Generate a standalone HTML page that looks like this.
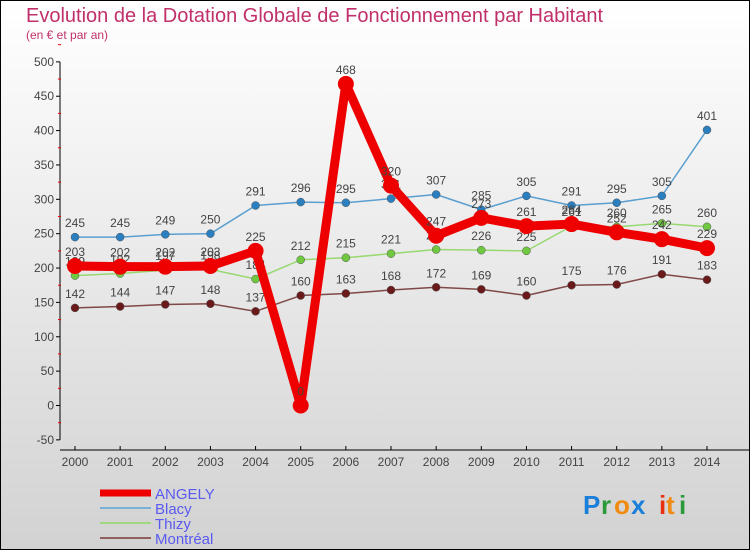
<!DOCTYPE html>
<html><head><meta charset="utf-8"><style>
body{margin:0;}
#wrap{width:750px;height:550px;position:relative;overflow:hidden;}
</style></head><body>
<div id="wrap">
<svg id="svg" width="750" height="550" xmlns="http://www.w3.org/2000/svg" font-family="Liberation Sans, sans-serif">
<defs><linearGradient id="bg" x1="0" y1="0" x2="0" y2="1"><stop offset="0" stop-color="#ffffff"/><stop offset="1" stop-color="#d2d2d2"/></linearGradient></defs>
<rect x="0.5" y="0.5" width="749" height="549" fill="url(#bg)" stroke="#000"/>
<text x="26" y="22" font-size="20" fill="#c0306a">Evolution de la Dotation Globale de Fonctionnement par Habitant</text>
<text x="26" y="39" font-size="12" fill="#c0306a">(en € et par an)</text>
<g id="axes"></g>
<g id="series"></g>
<g id="legend"></g>
<g font-size="26" font-weight="bold">
<text x="583" y="514" fill="#1a7fd8">P</text><text x="601" y="514" fill="#2a9a3a">r</text><text x="614" y="514" fill="#f08a10">o</text><text x="631" y="514" fill="#1a7fd8">x</text><text x="659" y="514" fill="#e83010">i</text><text x="666" y="514" fill="#f08a10">t</text><text x="679" y="514" fill="#2a9a3a">i</text>
</g>
</svg>
</div>
<script>
const years=[2000,2001,2002,2003,2004,2005,2006,2007,2008,2009,2010,2011,2012,2013,2014];
const angely=[203,202,202,203,225,0,468,320,247,273,261,264,252,242,229];
const blacy=[245,245,249,250,291,296,295,301,307,285,305,291,295,305,401];
const thizy=[189,192,197,198,184,212,215,221,227,226,225,261,260,265,260];
const montreal=[142,144,147,148,137,160,163,168,172,169,160,175,176,191,183];
const yTicks=[-50,0,50,100,150,200,250,300,350,400,450,500];
const NS='http://www.w3.org/2000/svg';
const X=i=>75+i*(707-75)/14;
const Y=v=>405.5-v*(378/550);
function mk(t,a,p){const e=document.createElementNS(NS,t);for(const k in a)e.setAttribute(k,a[k]);p.appendChild(e);return e;}
const ax=document.getElementById('axes');
const yl=mk('line',{x1:60,y1:Y(500),x2:60,y2:Y(-50),stroke:'#000'},ax);


yTicks.forEach(v=>{
 mk('line',{x1:56,x2:60,y1:Y(v),y2:Y(v),stroke:'#000'},ax);
 mk('line',{x1:58,x2:61,y1:Y(v+25),y2:Y(v+25),stroke:'#e00'},ax);
 const t=mk('text',{x:54,y:Y(v)+4,'text-anchor':'end','font-size':12,fill:'#444'},ax);t.textContent=v;
 
 
});
const xl=mk('line',{x1:60,y1:450,x2:750,y2:450,stroke:'#000'},ax);


years.forEach((y,i)=>{
 mk('line',{x1:X(i),x2:X(i),y1:446,y2:450,stroke:'#000'},ax);
 const t=mk('text',{x:X(i),y:466,'text-anchor':'middle','font-size':12,fill:'#444'},ax);t.textContent=y;
 
 
});
const S=document.getElementById('series');
const defs=[
 {n:'blacy',d:blacy,c:'#5a9fd0',w:1.5,r:4,f:'#2a7fc0'},
 {n:'thizy',d:thizy,c:'#98d870',w:1.5,r:4,f:'#70c840'},
 {n:'montreal',d:montreal,c:'#804848',w:1.5,r:4,f:'#6a1a1a'},
 {n:'angely',d:angely,c:'#ee0000',w:9,r:8,f:'#ee0000'}
];
defs.forEach(s=>{
 const g=mk('g',{},S);
 
 
 const pl=mk('polyline',{points:s.d.map((v,i)=>X(i)+','+Y(v)).join(' '),fill:'none',stroke:s.c,'stroke-width':s.w,'stroke-linejoin':'round'},g);
 
 
 s.d.forEach((v,i)=>{
  const c=mk('circle',{cx:X(i),cy:Y(v),r:s.r,fill:s.f,stroke:s.n==='angely'?'none':'#555','stroke-width':0.5},g);
  
  
  const t=mk('text',{x:X(i),y:Y(v)-10,'text-anchor':'middle','font-size':12,fill:'#444'},g);t.textContent=v;
  
  
 });
});
const L=document.getElementById('legend');
[['ANGELY','#ee0000',7],['Blacy','#7ab0d8',2],['Thizy','#a0d880',2],['Montréal','#906060',2]].forEach((e,i)=>{
 const y=493+i*15;
 const g=mk('g',{},L);
 
 
 mk('line',{x1:100,x2:151,y1:y,y2:y,stroke:e[1],'stroke-width':e[2]},g);
 const t=mk('text',{x:155,y:y+6,'font-size':15,fill:'#5a5af0'},g);t.textContent=e[0];
});
</script>
</body></html>
